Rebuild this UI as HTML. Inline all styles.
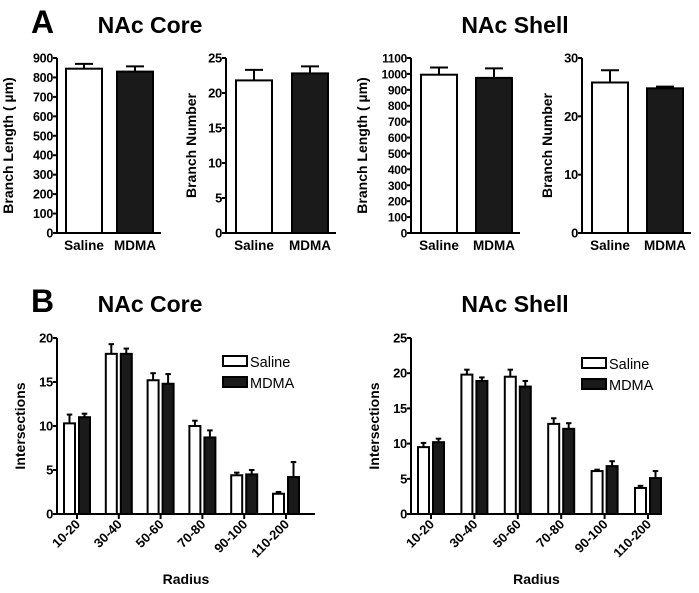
<!DOCTYPE html>
<html><head><meta charset="utf-8"><style>
html,body{margin:0;padding:0;background:#fff;}
svg{display:block;font-family:"Liberation Sans",Arial,sans-serif;font-weight:bold;}
</style></head><body>
<svg id="fig" width="699" height="593" viewBox="0 0 699 593">
<text x="31" y="33" font-size="32">A</text>
<text x="150" y="33" font-size="23" text-anchor="middle">NAc Core</text>
<text x="515" y="33" font-size="23" text-anchor="middle">NAc Shell</text>
<text x="31" y="312" font-size="32">B</text>
<text x="150" y="312" font-size="23" text-anchor="middle">NAc Core</text>
<text x="515" y="312" font-size="23" text-anchor="middle">NAc Shell</text>
</svg>
<script>
const groupLabels = ["Saline", "MDMA"];
const coreLength = [845, 830];
const coreLengthErr = [25, 27];
const coreNumber = [21.8, 22.8];
const coreNumberErr = [1.5, 1.0];
const shellLength = [995, 975];
const shellLengthErr = [45, 60];
const shellNumber = [25.8, 24.8];
const shellNumberErr = [2.1, 0.3];
const radiusLabels = ["10-20", "30-40", "50-60", "70-80", "90-100", "110-200"];
const coreSaline = [10.3, 18.2, 15.2, 10.0, 4.4, 2.3];
const coreSalineErr = [1.0, 1.1, 0.8, 0.6, 0.3, 0.2];
const coreMdma = [11.0, 18.2, 14.8, 8.7, 4.5, 4.2];
const coreMdmaErr = [0.4, 0.6, 1.1, 0.8, 0.5, 1.7];
const shellSaline = [9.5, 19.8, 19.5, 12.8, 6.1, 3.7];
const shellSalineErr = [0.6, 0.7, 1.0, 0.8, 0.2, 0.3];
const shellMdma = [10.2, 18.9, 18.1, 12.1, 6.8, 5.1];
const shellMdmaErr = [0.5, 0.5, 0.8, 0.8, 0.7, 1.0];
const lengthTicks = [0,100,200,300,400,500,600,700,800,900];
const lengthTicksShell = [0,100,200,300,400,500,600,700,800,900,1000,1100];
const numTicksCore = [0,5,10,15,20,25];
const numTicksShell = [0,10,20,30];
const interTicksCore = [0,5,10,15,20];
const interTicksShell = [0,5,10,15,20,25];

const svg = document.getElementById('fig');
const NS = 'http://www.w3.org/2000/svg';
function mk(tag, attrs, parent){
  const e = document.createElementNS(NS, tag);
  for (const k in attrs) e.setAttribute(k, attrs[k]);
  (parent||svg).appendChild(e);
  return e;
}
function yAxis(g, ax, top, bot, ticks, max, title, titleX, fs){
  const ys = v => bot - (v/max)*(bot-top);
  const l = mk('line',{x1:ax,y1:top,x2:ax,y2:bot,stroke:'#000','stroke-width':2},g);
  
  
  ticks.forEach(t=>{
    mk('line',{x1:ax-4,y1:ys(t),x2:ax,y2:ys(t),stroke:'#000','stroke-width':2},g);
    const tx = mk('text',{x:ax-4,y:ys(t)+4.5,'font-size':fs,'text-anchor':'end','letter-spacing':'-0.3'},g);
    tx.textContent = t;
    
    
  });
  const cy=(top+bot)/2;
  const tt = mk('text',{x:titleX,y:cy,'font-size':14,'text-anchor':'middle',transform:`rotate(-90 ${titleX} ${cy})`},g);
  tt.textContent = title;
  
  
  return ys;
}
function barWithErr(g, x, w, v, e, ys, fill, name){
  const b = mk('rect',{x:x,y:ys(v),width:w,height:ys(0)-ys(v),fill:fill,stroke:'#000','stroke-width':2},g);
  
  
  const cx = x+w/2;
  mk('line',{x1:cx,y1:ys(v),x2:cx,y2:ys(v+e),stroke:'#000','stroke-width':2},g);
  mk('line',{x1:cx-w*0.25,y1:ys(v+e),x2:cx+w*0.25,y2:ys(v+e),stroke:'#000','stroke-width':2},g);
}
function panelA(ax, bars, vals, errs, ticks, max, title, titleX, fs, name){
  const g = mk('g',{});
  
  
  const ys = yAxis(g, ax, 58, 233, ticks, max, title, titleX, fs);
  const xe = bars[1]+44;
  mk('line',{x1:ax,y1:233,x2:xe,y2:233,stroke:'#000','stroke-width':2},g);
  vals.forEach((v,i)=>{
    barWithErr(g, bars[i], 36, v, errs[i], ys, i===0?'#fff':'#1a1a1a', 'bar-'+groupLabels[i].toLowerCase());
    const t = mk('text',{x:bars[i]+18,y:250,'font-size':13.5,'text-anchor':'middle'},g);
    t.textContent = groupLabels[i];
    
    
  });
}
panelA(57,[66,117],coreLength,coreLengthErr,lengthTicks,900,'Branch Length ( \u00b5m)',13,12.5,'core-length-chart');
panelA(226,[236,292],coreNumber,coreNumberErr,numTicksCore,25,'Branch Number',196,13,'core-number-chart');
panelA(411,[421,476],shellLength,shellLengthErr,lengthTicksShell,1100,'Branch Length ( \u00b5m)',367,12,'shell-length-chart');
panelA(582,[592,647],shellNumber,shellNumberErr,numTicksShell,30,'Branch Number',552,13,'shell-number-chart');

function panelB(ax, xEnd, x0, step, sal, salE, md, mdE, ticks, max, titleX, legX, legY, name){
  const g = mk('g',{});
  
  
  const ys = yAxis(g, ax, 338, 514, ticks, max, 'Intersections', titleX, 13);
  mk('line',{x1:ax,y1:514,x2:xEnd,y2:514,stroke:'#000','stroke-width':2},g);
  radiusLabels.forEach((lab,i)=>{
    const x = x0 + i*step;
    barWithErr(g, x, 11, sal[i], salE[i], ys, '#fff', 'bar-saline-'+lab);
    barWithErr(g, x+15, 11, md[i], mdE[i], ys, '#1a1a1a', 'bar-mdma-'+lab);
    const cx = x+13;
    mk('line',{x1:cx,y1:514,x2:cx,y2:519,stroke:'#000','stroke-width':2},g);
    const t = mk('text',{x:cx+4,y:525,'font-size':13,'text-anchor':'end',transform:`rotate(-45 ${cx+4} ${525})`},g);
    t.textContent = lab;
    
    
  });
  const xt = mk('text',{x:(ax+xEnd)/2,y:584,'font-size':14,'text-anchor':'middle'},g);
  xt.textContent = 'Radius';
  
  
  ['Saline','MDMA'].forEach((s,i)=>{
    const y = legY + i*21;
    const r = mk('rect',{x:legX,y:y,width:24,height:10,fill:i===0?'#fff':'#1a1a1a',stroke:'#000','stroke-width':2},g);
    
    
    const t = mk('text',{x:legX+27,y:y+11,'font-size':14.5,'font-weight':'normal'},g);
    t.textContent = s;
    
    
  });
}
panelB(57,315,64,41.8,coreSaline,coreSalineErr,coreMdma,coreMdmaErr,interTicksCore,20,25,223,356,'core-intersections-chart');
panelB(411,662,418,43.4,shellSaline,shellSalineErr,shellMdma,shellMdmaErr,interTicksShell,25,379,582,358,'shell-intersections-chart');
</script>
</body></html>
